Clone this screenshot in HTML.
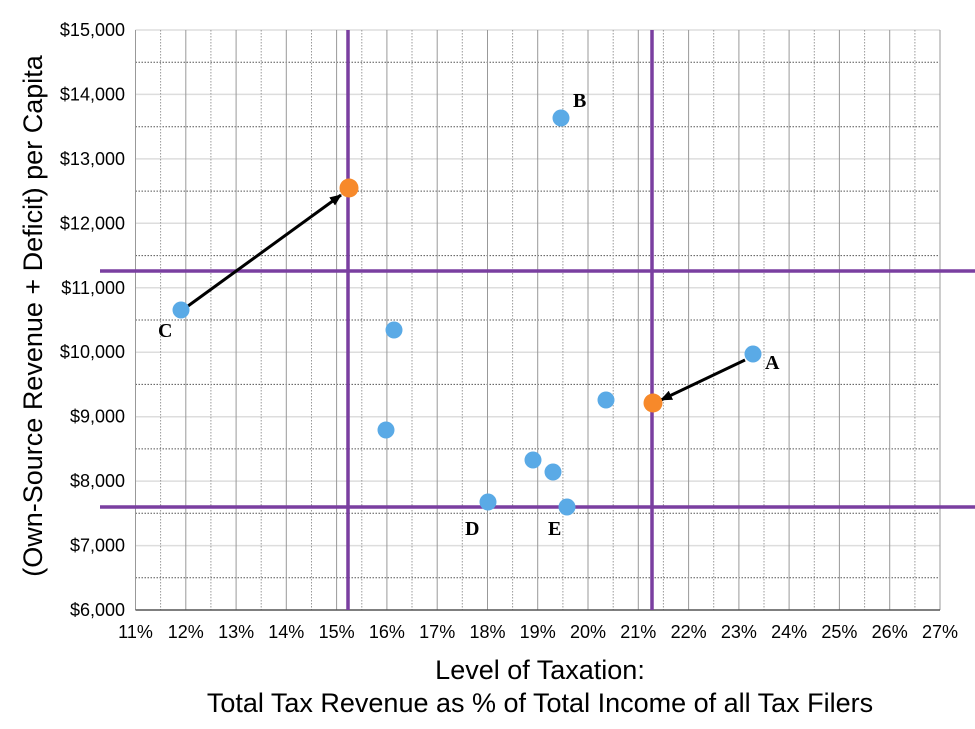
<!DOCTYPE html><html><head><style>body{margin:0;background:#fff}</style></head><body>
<svg width="975" height="724" xmlns="http://www.w3.org/2000/svg" font-family="Liberation Sans, sans-serif">
<defs><marker id="ah" markerWidth="12" markerHeight="10" refX="11" refY="5" orient="auto" markerUnits="userSpaceOnUse"><path d="M0,0L12,5L0,10z" fill="#000"/></marker></defs>
<path stroke="#ddd" stroke-width="1.5" d="M135.5,30H940M135.5,94.4H940M135.5,158.9H940M135.5,223.3H940M135.5,287.8H940M135.5,352.2H940M135.5,416.7H940M135.5,481.1H940M135.5,545.6H940"/>
<path stroke="#555" stroke-width="1" stroke-dasharray="1.5,1.5" d="M135.5,62.2H940M135.5,126.7H940M135.5,191.1H940M135.5,255.6H940M135.5,320H940M135.5,384.4H940M135.5,448.9H940M135.5,513.3H940M135.5,577.8H940"/>
<path stroke="#999" stroke-width="1" d="M135.5,30V610M185.8,30V610M236.1,30V610M286.3,30V610M336.6,30V610M386.9,30V610M437.2,30V610M487.5,30V610M537.7,30V610M588,30V610M638.3,30V610M688.6,30V610M738.9,30V610M789.1,30V610M839.4,30V610M889.7,30V610M940,30V610"/>
<path stroke="#999" stroke-width="1" stroke-dasharray="1.5,1.5" d="M160.6,30V610M210.9,30V610M261.2,30V610M311.5,30V610M361.8,30V610M412,30V610M462.3,30V610M512.6,30V610M562.9,30V610M613.2,30V610M663.4,30V610M713.7,30V610M764,30V610M814.3,30V610M864.6,30V610M914.9,30V610"/>
<line x1="135.5" y1="610" x2="940" y2="610" stroke="#555" stroke-width="1.5"/>
<g font-size="18" text-anchor="end">
<text x="125" y="36">$15,000</text><text x="125" y="100.4">$14,000</text><text x="125" y="164.9">$13,000</text><text x="125" y="229.3">$12,000</text><text x="125" y="293.8">$11,000</text><text x="125" y="358.2">$10,000</text><text x="125" y="422.7">$9,000</text><text x="125" y="487.1">$8,000</text><text x="125" y="551.6">$7,000</text><text x="125" y="616">$6,000</text></g>
<g font-size="18" text-anchor="middle">
<text x="135.5" y="638">11%</text><text x="185.8" y="638">12%</text><text x="236.1" y="638">13%</text><text x="286.3" y="638">14%</text><text x="336.6" y="638">15%</text><text x="386.9" y="638">16%</text><text x="437.2" y="638">17%</text><text x="487.5" y="638">18%</text><text x="537.7" y="638">19%</text><text x="588" y="638">20%</text><text x="638.3" y="638">21%</text><text x="688.6" y="638">22%</text><text x="738.9" y="638">23%</text><text x="789.1" y="638">24%</text><text x="839.4" y="638">25%</text><text x="889.7" y="638">26%</text><text x="940" y="638">27%</text></g>
<g stroke="#7a3fa0" stroke-width="3.5">
<line x1="348" y1="30" x2="348" y2="610"/><line x1="652" y1="30" x2="652" y2="610"/>
<line x1="100" y1="271" x2="975" y2="271"/><line x1="100" y1="507" x2="975" y2="507"/></g>
<g stroke="#000" stroke-width="3" marker-end="url(#ah)">
<line x1="188" y1="306" x2="341" y2="195"/><line x1="745" y1="360" x2="661" y2="400"/></g>
<g fill="#5aaae6">
<circle cx="181" cy="310" r="8.5"/><circle cx="561" cy="118" r="8.5"/><circle cx="394" cy="330" r="8.5"/><circle cx="386" cy="430" r="8.5"/><circle cx="606" cy="400" r="8.5"/><circle cx="533" cy="460" r="8.5"/><circle cx="553" cy="472" r="8.5"/><circle cx="488" cy="502" r="8.5"/><circle cx="567" cy="507" r="8.5"/><circle cx="753" cy="354" r="8.5"/></g>
<g fill="#f7892a"><circle cx="349" cy="188" r="9.5"/><circle cx="653" cy="403" r="9.5"/></g>
<g font-family="Liberation Serif, serif" font-weight="bold" font-size="20">
<text x="573" y="107">B</text><text x="158" y="337">C</text><text x="765" y="369">A</text><text x="465" y="535">D</text><text x="548" y="535">E</text></g>
<text x="540" y="679" font-size="27" text-anchor="middle">Level of Taxation:</text>
<text x="540" y="712" font-size="27" text-anchor="middle">Total Tax Revenue as % of Total Income of all Tax Filers</text>
<text transform="translate(42,316) rotate(-90)" font-size="27" text-anchor="middle">(Own-Source Revenue + Deficit) per Capita</text>
</svg></body></html>
